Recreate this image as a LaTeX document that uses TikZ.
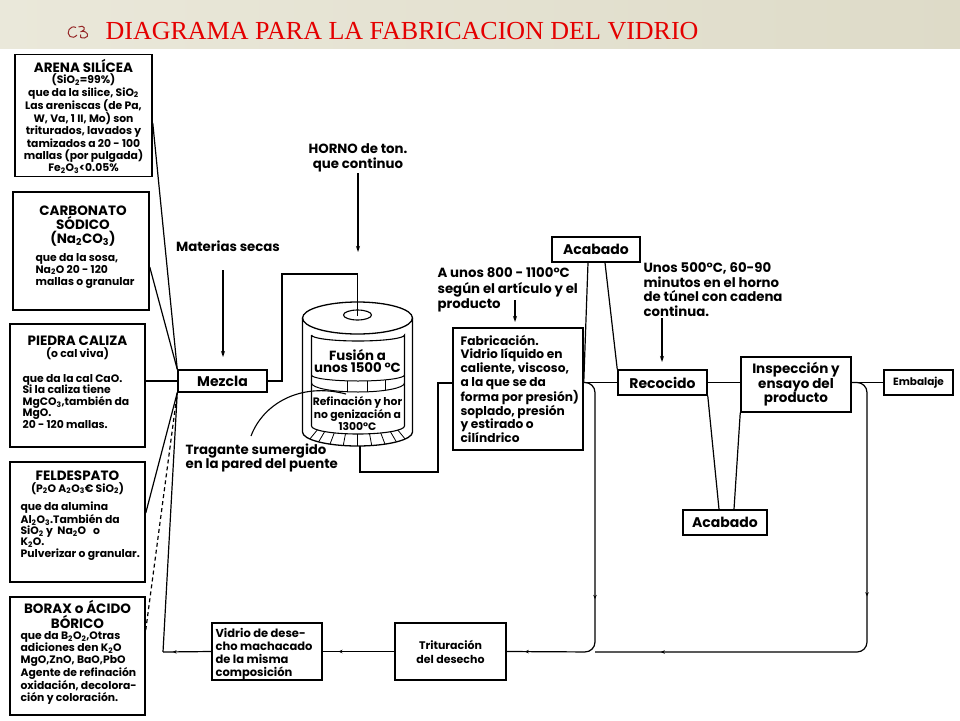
\documentclass[tikz,border=0pt]{standalone}
\usepackage{fontspec}
\setmainfont{Poppins}
\newfontfamily\titlefont{Liberation Serif}
\usetikzlibrary{arrows.meta,decorations.markings,calc}
\definecolor{hdrL}{RGB}{234,232,218}
\definecolor{hdrR}{RGB}{222,219,200}
\definecolor{ttlred}{RGB}{228,0,0}
\definecolor{symred}{RGB}{150,40,40}
\newcommand{\sbs}[1]{\textsubscript{#1}}
\begin{document}
\begin{tikzpicture}[x=1pt,y=-1pt,line width=1.2pt,
  box/.style={draw,line width=1.5pt,inner sep=0pt,rectangle},
  hd/.style={font=\fontsize{13.5}{#1}\selectfont\bfseries,align=center,anchor=base,inner sep=0pt},
  hd/.default=14,
  bdc/.style={font=\fontsize{10.8}{12.4}\selectfont\bfseries,align=center,anchor=base,inner sep=0pt},
  bdl/.style={font=\fontsize{10.8}{#1}\selectfont\bfseries,align=left,anchor=base west,inner sep=0pt},
  bdl/.default=12,
  lbl/.style={font=\fontsize{13.3}{#1}\selectfont\bfseries,align=left,anchor=base west,inner sep=0pt},
  lbl/.default=15,
  lblc/.style={font=\fontsize{13.3}{15}\selectfont\bfseries,align=center,anchor=base,inner sep=0pt},
  stepname/.style={box,font=\fontsize{14}{13}\selectfont\bfseries,align=center},
  arr/.style={-{Stealth[length=6pt,width=4pt]}},
]
\path[use as bounding box] (0,0) rectangle (960,720);
\fill[white] (0,0) rectangle (960,720);
\shade[left color=hdrL,right color=hdrR] (0,0) rectangle (960,48);

% title
\node[anchor=base west,inner sep=0pt,text=ttlred,font=\titlefont\fontsize{26}{26}\selectfont] (title) at (105,39) {DIAGRAMA PARA LA FABRICACION DEL VIDRIO};
\draw[symred,line width=1pt] (76,27.5) .. controls (70,24.5) and (65.5,33) .. (70,36.5) .. controls (72,38) and (75,37.5) .. (77,35);
\draw[symred,line width=1pt] (78.5,27) .. controls (84,24) and (87,30) .. (81.5,31.5) .. controls (88,30.5) and (90,37) .. (84.5,38) .. controls (81,38.5) and (79,36.5) .. (80.5,34.5);

% left raw material boxes
\node[box,minimum width=137,minimum height=122] (arena) at (83.5,115.5) {};
\node[hd] (arenah) at (83.5,72) {ARENA SILÍCEA};
\node[bdc] (arenab) at (83.5,171.8) {(SiO\sbs{2}=99\%)\\que da la silice, SiO\sbs{2}\\Las areniscas (de Pa,\\W, Va, 1 II, Mo) son\\triturados, lavados y\\tamizados a 20 - 100\\mallas (por pulgada)\\Fe\sbs{2}O\sbs{3}<0.05\%};

\node[box,minimum width=136,minimum height=118] (carb) at (81,251) {};
\node[hd=14] (carbh) at (83,243) {CARBONATO\\SÓDICO\\(Na\sbs{2}CO\sbs{3})};
\node[bdl] (carbb) at (35,285) {que da la sosa,\\Na\sbs{2}O 20 - 120\\mallas o granular};

\node[box,minimum width=135,minimum height=123] (piedra) at (77.5,385.5) {};
\node[hd] (piedrah) at (77.5,345) {PIEDRA CALIZA};
\node[bdc] (piedras) at (77.5,357) {(o cal viva)};
\node[bdl=11.6] (piedrab) at (22,428.4) {que da la cal CaO.\\Si la caliza tiene\\MgCO\sbs{3},también da\\MgO.\\20 - 120 mallas.};

\node[box,minimum width=135,minimum height=120] (feld) at (77.5,522) {};
\node[hd] (feldh) at (77.5,480) {FELDESPATO};
\node[bdc] (felds) at (77.5,492) {(P\sbs{2}O A\sbs{2}O\sbs{3}€ SiO\sbs{2})};
\node[bdl=11.3] (feldb) at (20,557.2) {que da alumina\\Al\sbs{2}O\sbs{3}.También da\\SiO\sbs{2} y \ Na\sbs{2}O \ \ o\\K\sbs{2}O.\\Pulverizar o granular.};

\node[box,minimum width=135,minimum height=118] (borax) at (77.5,656) {};
\node[hd=13] (boraxh) at (77.5,628) {BORAX o ÁCIDO\\BÓRICO};
\node[bdl=11.8] (boraxb) at (20,701) {que da B\sbs{2}O\sbs{2},Otras\\adiciones den K\sbs{2}O\\MgO,ZnO, BaO,PbO\\Agente de refinación\\oxidación, decolora-\\ción y coloración.};

% process boxes
\node[stepname,minimum width=89,minimum height=22] (mezcla) at (222.5,381) {Mezcla};
\node[box,minimum width=130,minimum height=122] (fab) at (518,389) {};
\node[font=\fontsize{12.2}{13.6}\selectfont\bfseries,align=left,anchor=base west,inner sep=0pt] (fabt) at (460,442.2) {Fabricación.\\Vidrio líquido en\\caliente, viscoso,\\a la que se da\\forma por presión)\\soplado, presión\\y estirado o\\cilíndrico};
\node[stepname,minimum width=88,minimum height=25] (acab1) at (596,249.5) {Acabado};
\node[stepname,minimum width=89,minimum height=25] (reco) at (662.5,382.5) {Recocido};
\node[stepname,minimum width=110,minimum height=55,font=\fontsize{13.5}{13}\selectfont\bfseries] (insp) at (796,384.5) {Inspección y\\ensayo del\\producto};
\node[stepname,minimum width=69,minimum height=25,font=\fontsize{10.5}{12}\selectfont\bfseries] (emb) at (918.5,382.5) {Embalaje};
\node[stepname,minimum width=84,minimum height=25] (acab2) at (725,522.5) {Acabado};
\node[box,minimum width=110,minimum height=57] (vidrio) at (267,651.5) {};
\node[font=\fontsize{11.5}{13}\selectfont\bfseries,align=left,anchor=base west,inner sep=0pt] (vidriot) at (215,676) {Vidrio de dese-\\cho machacado\\de la misma\\composición};
\node[stepname,minimum width=111,minimum height=57,font=\fontsize{11}{14}\selectfont\bfseries] (tritu) at (450.5,651.5) {Trituración\\del desecho};

% labels
\node[lblc] (horno) at (358,168) {HORNO de ton.\\que continuo};
\node[lblc] (mat) at (228,251) {Materias secas};
\node[lbl=15.5] (aunos) at (437,308.5) {A unos 800 - 1100°C\\según el artículo y el\\producto};
\node[lbl=14.7] (unos5) at (643,316.6) {Unos 500°C, 60-90\\minutos en el horno\\de túnel con cadena\\continua.};
\node[lbl=13] (trag) at (185,468.5) {Tragante sumergido\\en la pared del puente};

% furnace
\coordinate (fintop) at (357.5,316);
\coordinate (fout) at (360,446);
\draw[line width=1.3pt] (357.5,318) ellipse[x radius=55, y radius=16];
\draw[line width=1.1pt,fill=white] (357.5,315) ellipse[x radius=14, y radius=5];
\draw[line width=1.3pt] (302.5,318) -- (302.5,432) arc[start angle=180,end angle=0,x radius=55,y radius=14] -- (412.5,318);
\draw[line width=1.1pt] (311.5,335) -- (311.5,426) arc[start angle=180,end angle=0,x radius=46.5,y radius=8] -- (404.5,335) arc[start angle=0,end angle=180,x radius=46.5,y radius=6];
\draw[line width=1pt] (311.5,375) arc[start angle=180,end angle=0,x radius=46.5,y radius=6];
\draw[line width=1pt] (311.5,383) arc[start angle=180,end angle=0,x radius=46.5,y radius=9];
\foreach \tx/\ta/\tb in {347/380.5/391.5,367/380.5/391.5,385/379.5/390}
  \draw[line width=0.8pt] (\tx,\ta) -- (\tx,\tb);
\foreach \a in {150,135,120,105,90,75,60,45,30}
  \draw[line width=0.8pt] ($(357.5,426)+(\a:46.5 and 8)$) -- ($(357.5,432)+(\a:55 and 14)$);
\node[font=\fontsize{13.3}{12.5}\selectfont\bfseries,align=center,anchor=base,inner sep=0pt] (fusion) at (357.5,372.5) {Fusión a\\unos 1500 °C};
\node[font=\fontsize{10.8}{11.8}\selectfont\bfseries,align=center,anchor=base,inner sep=0pt] (refin) at (357.5,430.5) {Refinación y hor\\no genización a\\1300°C};

% tragante curve
\coordinate (tragA) at (251,436);
\coordinate (tragB) at (346,394);
\draw[line width=1.1pt] (tragA) .. controls (263,404) and (300,382) .. (tragB);

% feed lines into Mezcla
\draw ([yshift=-7.5]arena.east) -- (mezcla.north west);
\draw ([yshift=-16]carb.east) -- (mezcla.north west);
\draw (piedra.east |- mezcla.west) -- (mezcla.west);
\draw ([yshift=9]feld.east) -- (mezcla.south west);
\draw[dashed,dash pattern=on 4pt off 3pt] ([yshift=26]borax.east) -- (mezcla.south west);
\coordinate (ret) at (163,652);
\draw[postaction={decorate,decoration={markings,mark=at position 0.8 with {\arrow{Stealth[length=4pt,width=3.5pt]}}}}] (vidrio.west) -- (ret);
\draw (ret) -- (mezcla.south west);

% main flow
\coordinate (b1) at (282,274);
\draw (mezcla.east) -| (b1) -| (fintop);
\coordinate (b2) at (438,472);
\draw (fout) |- (b2) |- ([yshift=6]fab.west);
\draw (fab.east |- reco.west) -- (reco.west);
\draw (reco.east) -- (insp.west |- reco.east);
\draw (insp.east |- emb.west) -- (emb.west);
\draw ([xshift=-8]acab1.south) -- (fab.east |- reco.west);
\draw ([xshift=9]acab1.south) -- (reco.north west);
\draw (reco.south east) -- ([xshift=-6]acab2.north);
\draw (insp.south west) -- ([xshift=9]acab2.north);

% return loops
\coordinate (c1) at (595,382.5);
\coordinate (c2) at (595,652);
\coordinate (c3) at (867,382.5);
\coordinate (c4) at (867,652);
\draw[rounded corners=10,postaction={decorate,decoration={markings,mark=at position 0.62 with {\arrow{Stealth[length=4pt,width=3.5pt]}},mark=at position 0.95 with {\arrow{Stealth[length=4pt,width=3.5pt]}}}}] (fab.east |- reco.west) -- (c1) -- (c2) -- (tritu.east);
\draw[rounded corners=10,postaction={decorate,decoration={markings,mark=at position 0.41 with {\arrow{Stealth[length=4pt,width=3.5pt]}},mark=at position 0.88 with {\arrow{Stealth[length=4pt,width=3.5pt]}}}}] (insp.east |- emb.west) -- (c3) -- (c4) -- (c2);
\draw[postaction={decorate,decoration={markings,mark=at position 0.78 with {\arrow{Stealth[length=4pt,width=3.5pt]}}}}] (tritu.west) -- (vidrio.east);

% arrows from labels
\coordinate (hA) at (358,173);
\coordinate (hB) at (358,252);
\draw[arr] (hA) -- (hB);
\coordinate (mA) at (223,270);
\coordinate (mB) at (223,357);
\draw[arr] (mA) -- (mB);
\coordinate (aA) at (515,300);
\coordinate (aB) at (515,322);
\draw[arr] (aA) -- (aB);
\coordinate (uA) at (662,318);
\coordinate (uB) at (662,362);
\draw[arr] (uA) -- (uB);
\end{tikzpicture}
\end{document}
